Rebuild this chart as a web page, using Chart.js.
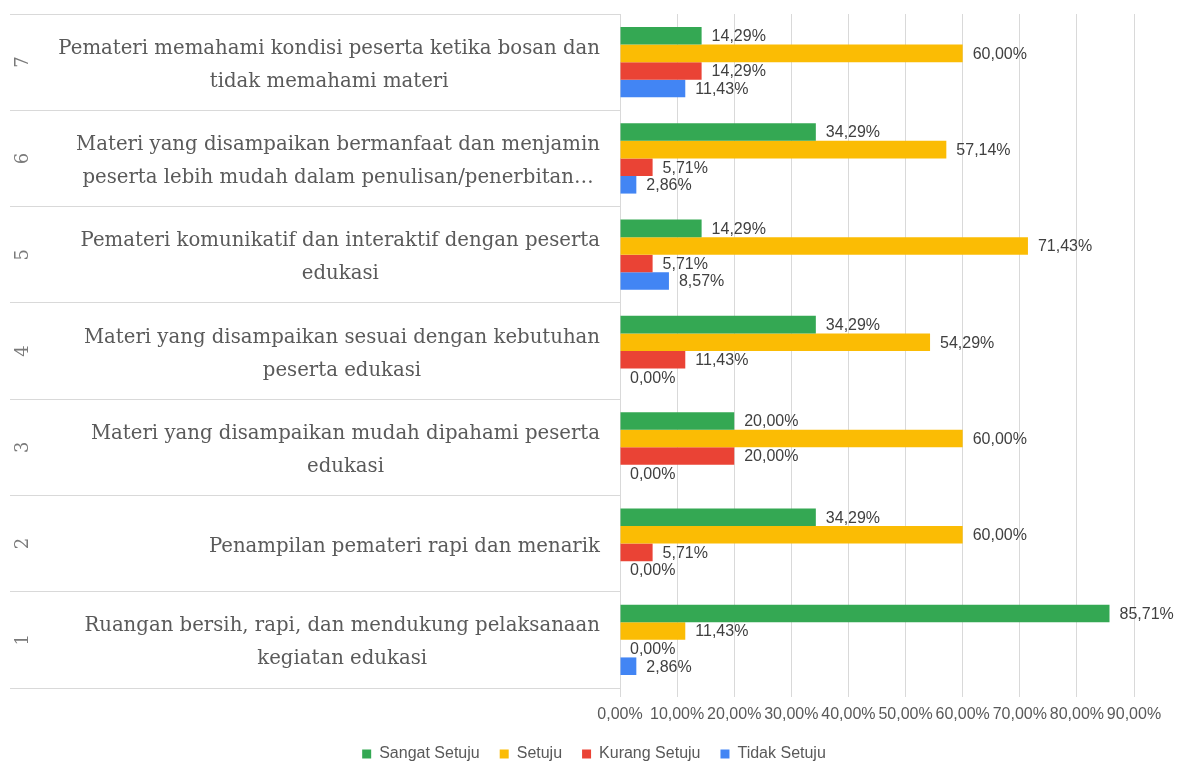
<!DOCTYPE html>
<html>
<head>
<meta charset="utf-8">
<title>Evaluasi Kegiatan Edukasi</title>
<script src="https://cdn.jsdelivr.net/npm/chart.js@4.4.0/dist/chart.umd.min.js"></script>
<style>
  html, body { margin: 0; padding: 0; background: #fff; }
</style>
</head>
<body>
<canvas id="grafikEvaluasi" width="1181" height="762"></canvas>
<script>
/* Data penilaian (persen), urutan baris dari atas (7) ke bawah (1) */
const nomorItem = ['7', '6', '5', '4', '3', '2', '1'];
const pernyataan = [
  ['Pemateri memahami kondisi peserta ketika bosan dan', 'tidak memahami materi'],
  ['Materi yang disampaikan bermanfaat dan menjamin', 'peserta lebih mudah dalam penulisan/penerbitan…'],
  ['Pemateri komunikatif dan interaktif dengan peserta', 'edukasi'],
  ['Materi yang disampaikan sesuai dengan kebutuhan', 'peserta edukasi'],
  ['Materi yang disampaikan mudah dipahami peserta', 'edukasi'],
  ['Penampilan pemateri rapi dan menarik'],
  ['Ruangan bersih, rapi, dan mendukung pelaksanaan', 'kegiatan edukasi']
];
const sangatSetuju = [14.29, 34.29, 14.29, 34.29, 20.00, 34.29, 85.71];
const setuju       = [60.00, 57.14, 71.43, 54.29, 60.00, 60.00, 11.43];
const kurangSetuju = [14.29, 5.71, 5.71, 11.43, 20.00, 5.71, 0.00];
const tidakSetuju  = [11.43, 2.86, 8.57, 0.00, 0.00, 0.00, 2.86];
const tickSumbuX   = [0, 10, 20, 30, 40, 50, 60, 70, 80, 90];

const hijau = '#34A853';
const kuning = '#FBBC04';
const merah = '#EA4335';
const biru = '#4285F4';
const abuGaris = '#d9d9d9';
const fontSans = '"Liberation Sans", Arial, sans-serif';

/* Format angka ke gaya Indonesia: 14,29% */
function formatPersen(v) {
  return v.toFixed(2).replace('.', ',') + '%';
}

/* Label nilai di ujung setiap batang */
const labelBatang = {
  id: 'labelBatang',
  afterDatasetsDraw(chart) {
    const ctx = chart.ctx;
    ctx.save();
    ctx.font = '16px ' + fontSans;
    ctx.fillStyle = '#404040';
    ctx.textAlign = 'left';
    ctx.textBaseline = 'middle';
    chart.data.datasets.forEach((ds, i) => {
      chart.getDatasetMeta(i).data.forEach((bar, j) => {
        ctx.fillText(formatPersen(ds.data[j]), bar.x + 10, bar.y + 1);
      });
    });
    ctx.restore();
  }
};

/* Kolom kiri: nomor item (diputar) dan teks pernyataan */
const tabelKategori = {
  id: 'tabelKategori',
  afterDraw(chart) {
    const sumbuY = chart.scales.y;
    const ctx = chart.ctx;
    const kananBlok = sumbuY.right - 20;
    ctx.save();
    ctx.textBaseline = 'middle';
    nomorItem.forEach((no, i) => {
      const py = sumbuY.getPixelForValue(i);

      ctx.save();
      ctx.translate(23, py);
      ctx.rotate(-Math.PI / 2);
      ctx.font = '18px "DejaVu Serif", serif';
      ctx.fillStyle = '#7a7a7a';
      ctx.textAlign = 'center';
      ctx.fillText(no, 0, 0);
      ctx.restore();

      const baris = pernyataan[i];
      ctx.font = '19.7px "DejaVu Serif", serif';
      ctx.fillStyle = '#5a5a5a';
      ctx.textAlign = 'center';
      const lebar = Math.max(...baris.map(b => ctx.measureText(b).width));
      const tengah = kananBlok - lebar / 2;
      baris.forEach((b, k) => {
        ctx.fillText(b, tengah, py + 3 + (k - (baris.length - 1) / 2) * 33);
      });
    });
    ctx.restore();
  }
};

const ctx = document.getElementById('grafikEvaluasi').getContext('2d');

new Chart(ctx, {
  type: 'bar',
  data: {
    labels: nomorItem,
    datasets: [
      { label: 'Sangat Setuju', data: sangatSetuju, backgroundColor: hijau },
      { label: 'Setuju', data: setuju, backgroundColor: kuning },
      { label: 'Kurang Setuju', data: kurangSetuju, backgroundColor: merah },
      { label: 'Tidak Setuju', data: tidakSetuju, backgroundColor: biru }
    ]
  },
  options: {
    indexAxis: 'y',
    responsive: false,
    devicePixelRatio: 1,
    animation: false,
    categoryPercentage: 0.73,
    barPercentage: 1.0,
    /* kiri 54 agar legenda bergeser ke tengah seperti aslinya; garis tabel tetap mulai di x=10 */
    layout: { padding: { top: 14, left: 54, right: 47, bottom: -10 } },
    plugins: {
      legend: {
        position: 'bottom',
        labels: {
          boxWidth: 9,
          boxHeight: 9,
          padding: 20,
          color: '#595959',
          font: { family: fontSans, size: 16 }
        }
      },
      tooltip: { enabled: false }
    },
    scales: {
      x: {
        min: 0,
        max: 90,
        afterBuildTicks: (scale) => { scale.ticks = tickSumbuX.map(v => ({ value: v })); },
        afterFit: (scale) => { scale.height = 38; },
        grid: { color: abuGaris, tickLength: 9, drawTicks: true },
        border: { display: false },
        ticks: {
          autoSkip: false,
          maxRotation: 0,
          padding: 8,
          color: '#595959',
          font: { family: fontSans, size: 16 },
          callback: (v) => formatPersen(v)
        }
      },
      y: {
        afterFit: (scale) => { scale.width = 566; },
        grid: { color: abuGaris, drawOnChartArea: false, drawTicks: true, tickLength: 610 },
        border: { display: true, color: abuGaris },
        ticks: { display: false }
      }
    }
  },
  plugins: [labelBatang, tabelKategori]
});
</script>
</body>
</html>
